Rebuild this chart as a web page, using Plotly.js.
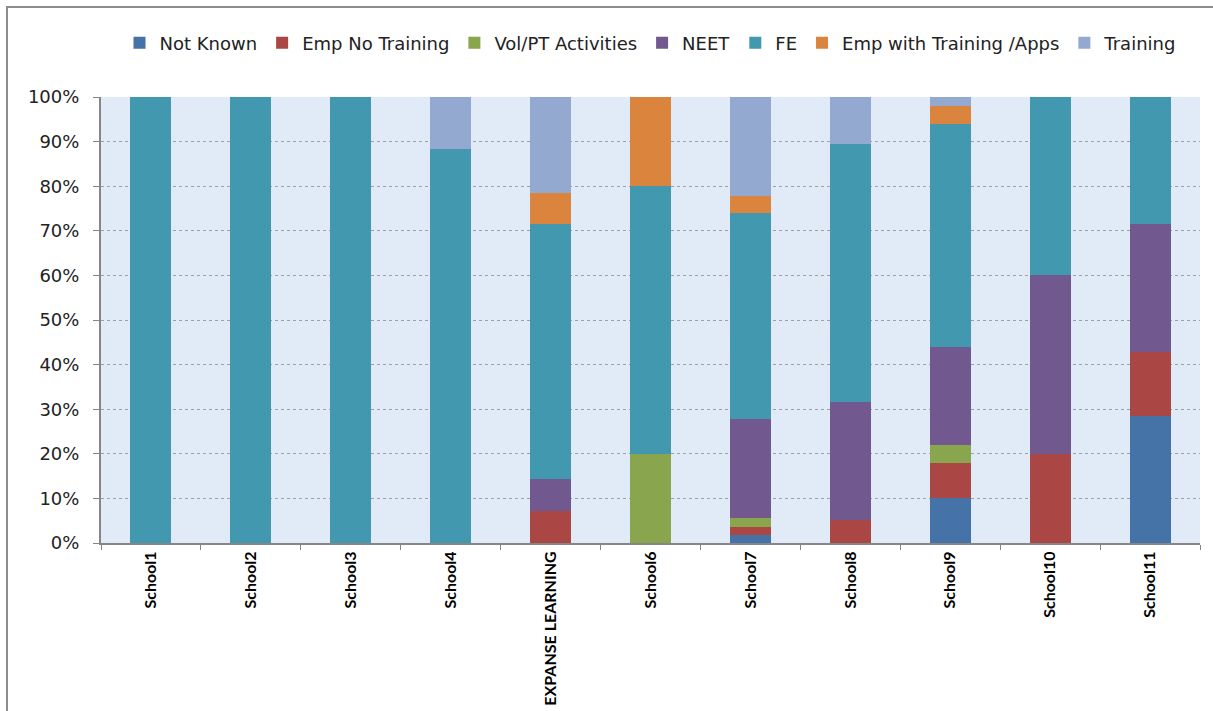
<!DOCTYPE html>
<html>
<head>
<meta charset="utf-8">
<script src="https://cdn.plot.ly/plotly-3.0.1.min.js"></script>
<style>
  html, body { margin: 0; padding: 0; background: #ffffff; overflow: hidden; }
  #chart { width: 1213px; height: 711px; }
  #frame { position: absolute; left: 6px; top: 6px; width: 1400px; height: 900px;
           border: 2px solid #8c8c8c; pointer-events: none; }
</style>
</head>
<body>
<div id="chart"></div>
<div id="frame"></div>
<script>
const categories = ["School1", "School2", "School3", "School4", "EXPANSE LEARNING",
                    "School6", "School7", "School8", "School9", "School10", "School11"];

const seriesNames = ["Not Known", "Emp No Training", "Vol/PT Activities", "NEET", "FE",
                     "Emp with Training /Apps", "Training"];

const notKnown       = [0, 0, 0, 0, 0,     0,  1.85, 0,     10, 0,  28.57];
const empNoTraining  = [0, 0, 0, 0, 7.14,  0,  1.85, 5.26,  8,  20, 14.29];
const volPT          = [0, 0, 0, 0, 0,     20, 1.85, 0,     4,  0,  0];
const neet           = [0, 0, 0, 0, 7.14,  0,  22.22, 26.32, 22, 40, 28.57];
const fe             = [100, 100, 100, 88.24, 57.14, 60, 46.30, 57.89, 50, 40, 28.57];
const empWithTraining= [0, 0, 0, 0, 7.14,  20, 3.70, 0,     4,  0,  0];
const training       = [0, 0, 0, 11.76, 21.44, 0, 22.23, 10.53, 2, 0, 0];

const yTickVals = [0, 10, 20, 30, 40, 50, 60, 70, 80, 90, 100];
const yTickText = ["0%", "10%", "20%", "30%", "40%", "50%", "60%", "70%", "80%", "90%", "100%"];

const seriesValues = [notKnown, empNoTraining, volPT, neet, fe, empWithTraining, training];
const colors = ["#4572A7", "#AA4643", "#89A54E", "#71588F", "#4198AF", "#DB843D", "#93A9CF"];

const traces = seriesNames.map((name, i) => ({
  type: "bar",
  name: name,
  x: categories,
  y: seriesValues[i],
  marker: { color: colors[i], line: { width: 0 } },
  hoverinfo: "x+y+name"
}));

const layout = {
  width: 1213,
  height: 711,
  margin: { l: 101, r: 13, t: 97, b: 168 },
  paper_bgcolor: "#ffffff",
  plot_bgcolor: "#e0ebf7",
  barmode: "stack",
  bargap: 0.59,
  showlegend: true,
  legend: {
    orientation: "h",
    x: 0.5, xanchor: "center",
    y: 1.121, yanchor: "middle",
    traceorder: "normal",
    font: { family: "DejaVu Sans, Arial, sans-serif", size: 18, color: "#222222" },
    itemwidth: 30,
    tracegroupgap: 0
  },
  xaxis: {
    type: "category",
    tickangle: -90,
    tickfont: { family: "Lato, Carlito, sans-serif", size: 16, color: "#000000", weight: "bold" },
    showline: true,
    linecolor: "#868686",
    linewidth: 2,
    ticks: "outside",
    tickson: "boundaries",
    ticklen: 5,
    tickcolor: "#868686",
    showgrid: false,
    zeroline: false
  },
  yaxis: {
    range: [0, 100],
    tickvals: yTickVals,
    ticktext: yTickText,
    tickfont: { family: "DejaVu Sans, sans-serif", size: 18, color: "#222222" },
    showline: true,
    linecolor: "#868686",
    linewidth: 2,
    ticks: "outside",
    ticklen: 6,
    tickcolor: "#868686",
    showgrid: true,
    gridcolor: "#a0a0a0",
    griddash: "dot",
    gridwidth: 1,
    zeroline: false,
    ticklabelstandoff: 10
  }
};

Plotly.newPlot("chart", traces, layout, { displayModeBar: false, staticPlot: true });
</script>
</body>
</html>
